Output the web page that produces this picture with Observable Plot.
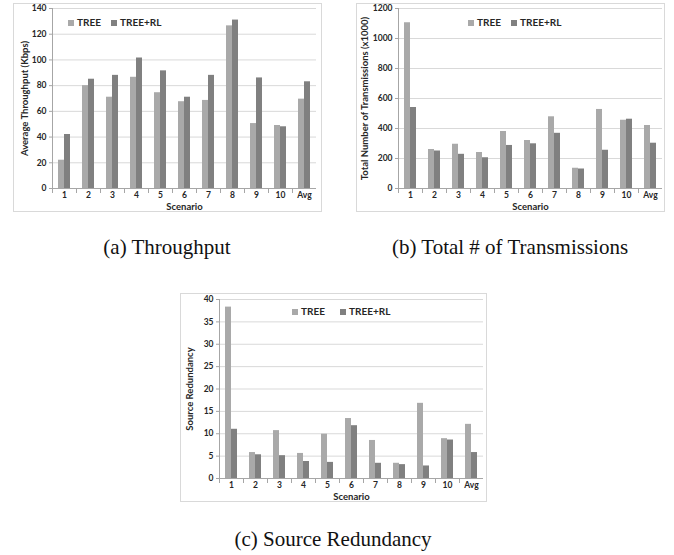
<!DOCTYPE html>
<html>
<head>
<meta charset="utf-8">
<script src="https://cdn.jsdelivr.net/npm/d3@7"></script>
<script src="https://cdn.jsdelivr.net/npm/@observablehq/plot@0.6"></script>
<style>
  html, body { margin: 0; padding: 0; background: white; }
  #root { position: relative; width: 674px; height: 555px; overflow: hidden; background: white; }
  .box { position: absolute; border: 1px solid #d9d9d9; background: white; }
  .box svg { display: block; }
  .legend { position: absolute; font-family: Lato, "Open Sans", sans-serif; font-weight: bold; font-size: 10px; color: #262626; white-space: nowrap; line-height: 10px; }
  .legend span.sw { display: inline-block; width: 6px; height: 6px; margin-right: 3px; vertical-align: 0px; }
  .legend span.item { position: absolute; top: 0; }
  .caption { position: absolute; font-family: "Liberation Serif", "Times New Roman", Times, "DejaVu Serif", serif; font-size: 21px; color: #111; white-space: nowrap; transform: translateX(-50%); }
</style>
</head>
<body>
<div id="root"></div>
<script>
// ---- data ----
const categories = ["1", "2", "3", "4", "5", "6", "7", "8", "9", "10", "Avg"];
const seriesNames = ["TREE", "TREE+RL"];
const seriesColors = ["#a9a9a9", "#808080"];

const throughputTree   = [22, 80, 71, 86.5, 74.5, 67.5, 68.5, 126.5, 50.5, 49, 69.5];
const throughputTreeRL = [42, 85, 88, 101.5, 91.5, 71, 88, 131, 86, 48, 83];
const throughputTicks  = [0, 20, 40, 60, 80, 100, 120, 140];

const transTree   = [1105, 260, 295, 240, 380, 320, 478, 135, 527, 455, 420];
const transTreeRL = [540, 250, 228, 205, 287, 298, 368, 130, 255, 462, 302];
const transTicks  = [0, 200, 400, 600, 800, 1000, 1200];

const redTree   = [38.3, 5.8, 10.7, 5.6, 9.9, 13.4, 8.5, 3.4, 16.8, 8.9, 12.1];
const redTreeRL = [11, 5.3, 5.1, 3.8, 3.6, 11.8, 3.4, 3.1, 2.8, 8.6, 5.8];
const redTicks  = [0, 5, 10, 15, 20, 25, 30, 35, 40];

const captions = ["(a) Throughput", "(b) Total # of Transmissions", "(c) Source Redundancy"];
const yLabels = ["Average Throughput (Kbps)", "Total Number of Transmissions (x1000)", "Source Redundancy"];
const xLabel = "Scenario";

function toRows(a, b) {
  const rows = [];
  categories.forEach((c, i) => {
    rows.push({category: c, series: seriesNames[0], value: a[i]});
    rows.push({category: c, series: seriesNames[1], value: b[i]});
  });
  return rows;
}

const root = document.getElementById("root");

function makeChart(cfg) {
  const {rows, ticks, yLabel, left, top, width, height, mL, mR, mT, mB, labelOffset, legend} = cfg;
  const plotH = height - mT - mB;
  const axisColor = "#a6a6a6";
  const chart = Plot.plot({
    width, height,
    marginLeft: mL, marginRight: mR, marginTop: mT, marginBottom: mB,
    style: {fontFamily: "Lato, 'Open Sans', sans-serif", fontWeight: "bold", fontSize: "8px", color: "#262626", background: "white", overflow: "visible"},
    fx: {domain: categories, padding: 0},
    x: {domain: seriesNames, paddingInner: 0, paddingOuter: 0.85, axis: null},
    y: {domain: [ticks[0], ticks[ticks.length - 1]]},
    color: {domain: seriesNames, range: seriesColors},
    marks: [
      Plot.gridY(ticks, {stroke: "#d9d9d9", strokeOpacity: 1, strokeWidth: 1}),
      Plot.barY(rows, {fx: "category", x: "series", y: "value", fill: "series"}),
      Plot.ruleY([0], {stroke: axisColor}),
      Plot.frame({anchor: "left", facetAnchor: "left", stroke: axisColor}),
      Plot.frame({anchor: "left", insetTop: plotH, insetBottom: -4, stroke: axisColor}),
      Plot.axisY({ticks, tickFormat: d3.format("d"), tickSize: 3, tickPadding: 3, stroke: axisColor, label: yLabel, labelAnchor: "center", labelArrow: "none", labelOffset, fontSize: "8.5px"}),
      Plot.axisFx({anchor: "bottom", tickSize: 0, tickPadding: 3, label: xLabel, labelAnchor: "center", labelArrow: "none", labelOffset: 21, fontSize: "8.5px"})
    ]
  });
  const box = document.createElement("div");
  box.className = "box";
  box.style.left = left + "px";
  box.style.top = top + "px";
  box.appendChild(chart);
  root.appendChild(box);
  // enlarge axis titles
  chart.querySelectorAll("text").forEach(t => {
    const s = t.textContent.trim();
    if (s === yLabel || s === xLabel) {
      t.setAttribute("font-size", "9.5px");
      t.style.fontSize = "9.5px";
    }
  });
  // legend
  const lg = document.createElement("div");
  lg.className = "legend";
  lg.style.left = "0px"; lg.style.top = "0px";
  seriesNames.forEach((s, i) => {
    const item = document.createElement("span");
    item.className = "item";
    item.style.left = legend[i][0] + "px";
    item.style.top = legend[i][1] + "px";
    const sw = document.createElement("span");
    sw.className = "sw";
    sw.style.background = seriesColors[i];
    item.appendChild(sw);
    item.appendChild(document.createTextNode(s));
    lg.appendChild(item);
  });
  root.appendChild(lg);
}

makeChart({rows: toRows(throughputTree, throughputTreeRL), ticks: throughputTicks, yLabel: yLabels[0],
  left: 13, top: 3, width: 307, height: 207, mL: 34, mR: 1, mT: 4, mB: 23, labelOffset: 31,
  legend: [[68, 17], [111, 17]]});
makeChart({rows: toRows(transTree, transTreeRL), ticks: transTicks, yLabel: yLabels[1],
  left: 356, top: 3, width: 307, height: 207, mL: 40, mR: 2, mT: 4, mB: 23, labelOffset: 37,
  legend: [[468, 17], [511, 17]]});
makeChart({rows: toRows(redTree, redTreeRL), ticks: redTicks, yLabel: yLabels[2],
  left: 180, top: 293, width: 305, height: 207, mL: 35, mR: 1, mT: 5, mB: 23, labelOffset: 33,
  legend: [[292, 306], [340, 306]]});

// captions
[[167, 235], [510, 235], [333, 527]].forEach((p, i) => {
  const c = document.createElement("div");
  c.className = "caption";
  c.style.left = p[0] + "px";
  c.style.top = p[1] + "px";
  c.textContent = captions[i];
  root.appendChild(c);
});
</script>
</body>
</html>
